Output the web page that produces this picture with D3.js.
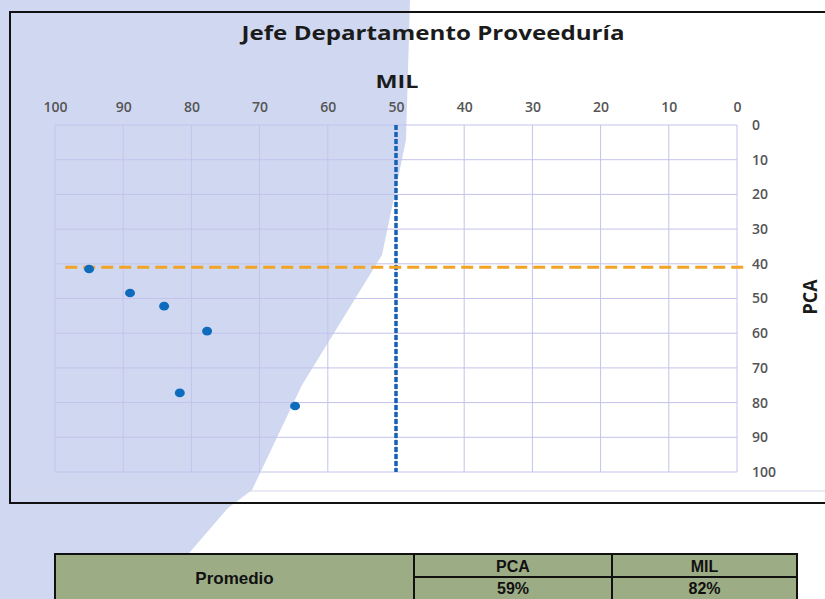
<!DOCTYPE html>
<html>
<head>
<meta charset="utf-8">
<script src="https://cdnjs.cloudflare.com/ajax/libs/d3/7.8.5/d3.min.js"></script>
<style>
  html, body { margin: 0; padding: 0; background: #fff; }
  svg { display: block; }
</style>
</head>
<body>
<div id="chart"></div>
<script>
var w = 825;
var h = 599;

// data
var milValues = [95, 89, 84, 77.7, 81.7, 64.8];
var pcaValues = [41.5, 48.4, 52.2, 59.4, 77.2, 81];
var milTicks = [100, 90, 80, 70, 60, 50, 40, 30, 20, 10, 0];
var pcaTicks = [0, 10, 20, 30, 40, 50, 60, 70, 80, 90, 100];
var milRef = 50;
var pcaRef = 41;
var pcaRefFrom = [98.5, -1.2];
var tableHead = ["PCA", "MIL"];
var tableVals = ["59%", "82%"];
var tableLabel = "Promedio";

var marg = { top: 125, right: w - 737, bottom: h - 472, left: 55 };

var svg = d3.select("#chart").append("svg")
  .attr("width", w)
  .attr("height", h);

// scan shading on the left
svg.append("path")
  .attr("d", "M0,0 L410,0 L406,140 L382,255 L302,385 L252,490 L228,508 L190,552 L160,599 L0,599 Z")
  .attr("fill", "#d0d8f1");

// chart frame
svg.append("rect")
  .attr("x", 10).attr("y", 12)
  .attr("width", 830).attr("height", 491)
  .attr("fill", "none")
  .attr("stroke", "#111")
  .attr("stroke-width", 2);

var x = d3.scaleLinear().domain([100, 0]).range([marg.left, w - marg.right]);
var y = d3.scaleLinear().domain([0, 100]).range([marg.top, h - marg.bottom]);

// grid
var grid = svg.append("g").attr("stroke", "#c3c3ec").attr("stroke-width", 1);
grid.selectAll(".gx").data(milTicks).enter().append("line")
  .attr("x1", function(d) { return x(d); })
  .attr("x2", function(d) { return x(d); })
  .attr("y1", y(0)).attr("y2", y(100));
grid.selectAll(".gy").data(pcaTicks).enter().append("line")
  .attr("x1", x(100)).attr("x2", x(0))
  .attr("y1", function(d) { return y(d); })
  .attr("y2", function(d) { return y(d); });

// faint line under the plot
svg.append("line")
  .attr("x1", 12).attr("x2", 825)
  .attr("y1", 491).attr("y2", 491)
  .attr("stroke", "#d6d6ea").attr("stroke-width", 1);

// axes
var topAxis = svg.append("g")
  .attr("transform", "translate(0," + marg.top + ")")
  .call(d3.axisTop(x).tickValues(milTicks).tickSize(0).tickPadding(13));
var rightAxis = svg.append("g")
  .attr("transform", "translate(" + (w - marg.right) + ",0)")
  .call(d3.axisRight(y).tickValues(pcaTicks).tickSize(0).tickPadding(15));

[topAxis, rightAxis].forEach(function(a) {
  a.select(".domain").remove();
  a.selectAll("text")
    .attr("fill", "#555")
    .style("font-family", "'Open Sans', sans-serif")
    .style("font-size", "14px")
    .style("font-weight", "600");
});

// reference lines
svg.append("line")
  .attr("x1", x(milRef)).attr("x2", x(milRef))
  .attr("y1", y(0)).attr("y2", y(100))
  .attr("stroke", "#1462b4")
  .attr("stroke-width", 3.5)
  .attr("stroke-dasharray", "5,2");

svg.append("line")
  .attr("x1", x(pcaRefFrom[0])).attr("x2", x(pcaRefFrom[1]))
  .attr("y1", y(pcaRef)).attr("y2", y(pcaRef))
  .attr("stroke", "#f2a325")
  .attr("stroke-width", 3)
  .attr("stroke-dasharray", "12,6");

// points
svg.selectAll(".dot").data(milValues).enter().append("ellipse")
  .attr("cx", function(d) { return x(d); })
  .attr("cy", function(d, i) { return y(pcaValues[i]); })
  .attr("rx", 5).attr("ry", 4.3)
  .attr("fill", "#0f6cbd");

// titles
svg.append("text")
  .attr("x", 433).attr("y", 40)
  .attr("text-anchor", "middle")
  .attr("textLength", 383)
  .attr("lengthAdjust", "spacingAndGlyphs")
  .style("font-family", "'Open Sans', sans-serif")
  .style("font-weight", "bold")
  .style("font-size", "19px")
  .attr("fill", "#1b1b1b")
  .text("Jefe Departamento Proveeduría");

svg.append("text")
  .attr("x", 397).attr("y", 88)
  .attr("text-anchor", "middle")
  .attr("textLength", 43)
  .attr("lengthAdjust", "spacingAndGlyphs")
  .style("font-family", "'Open Sans', sans-serif")
  .style("font-weight", "bold")
  .style("font-size", "17px")
  .attr("fill", "#1b1b1b")
  .text("MIL");

svg.append("text")
  .attr("transform", "translate(817,297) rotate(-90)")
  .attr("text-anchor", "middle")
  .attr("textLength", 35)
  .attr("lengthAdjust", "spacingAndGlyphs")
  .style("font-family", "'Open Sans', sans-serif")
  .style("font-weight", "bold")
  .style("font-size", "19px")
  .attr("fill", "#1b1b1b")
  .text("PCA");

// summary table
var tbl = svg.append("g");
var cols = [55, 414, 612, 797];
var rows = [554, 577, 601];
tbl.append("rect")
  .attr("x", cols[0]).attr("y", rows[0])
  .attr("width", cols[3] - cols[0]).attr("height", rows[2] - rows[0])
  .attr("fill", "#9cad86")
  .attr("stroke", "#111").attr("stroke-width", 2);
tbl.append("line")
  .attr("x1", cols[1]).attr("x2", cols[1]).attr("y1", rows[0]).attr("y2", rows[2])
  .attr("stroke", "#111").attr("stroke-width", 2);
tbl.append("line")
  .attr("x1", cols[2]).attr("x2", cols[2]).attr("y1", rows[0]).attr("y2", rows[2])
  .attr("stroke", "#111").attr("stroke-width", 2);
tbl.append("line")
  .attr("x1", cols[1]).attr("x2", cols[3]).attr("y1", rows[1]).attr("y2", rows[1])
  .attr("stroke", "#111").attr("stroke-width", 2);

var tFont = "'Liberation Sans', Arial, sans-serif";
tbl.append("text")
  .attr("x", (cols[0] + cols[1]) / 2).attr("y", 584)
  .attr("text-anchor", "middle")
  .style("font-family", tFont).style("font-weight", "bold").style("font-size", "17px")
  .attr("fill", "#111")
  .text(tableLabel);
tableHead.forEach(function(t, i) {
  tbl.append("text")
    .attr("x", (cols[i + 1] + cols[i + 2]) / 2).attr("y", 572)
    .attr("text-anchor", "middle")
    .style("font-family", tFont).style("font-weight", "bold").style("font-size", "16px")
    .attr("fill", "#111")
    .text(t);
  tbl.append("text")
    .attr("x", (cols[i + 1] + cols[i + 2]) / 2).attr("y", 594)
    .attr("text-anchor", "middle")
    .style("font-family", tFont).style("font-weight", "bold").style("font-size", "16px")
    .attr("fill", "#111")
    .text(tableVals[i]);
});
</script>
</body>
</html>
